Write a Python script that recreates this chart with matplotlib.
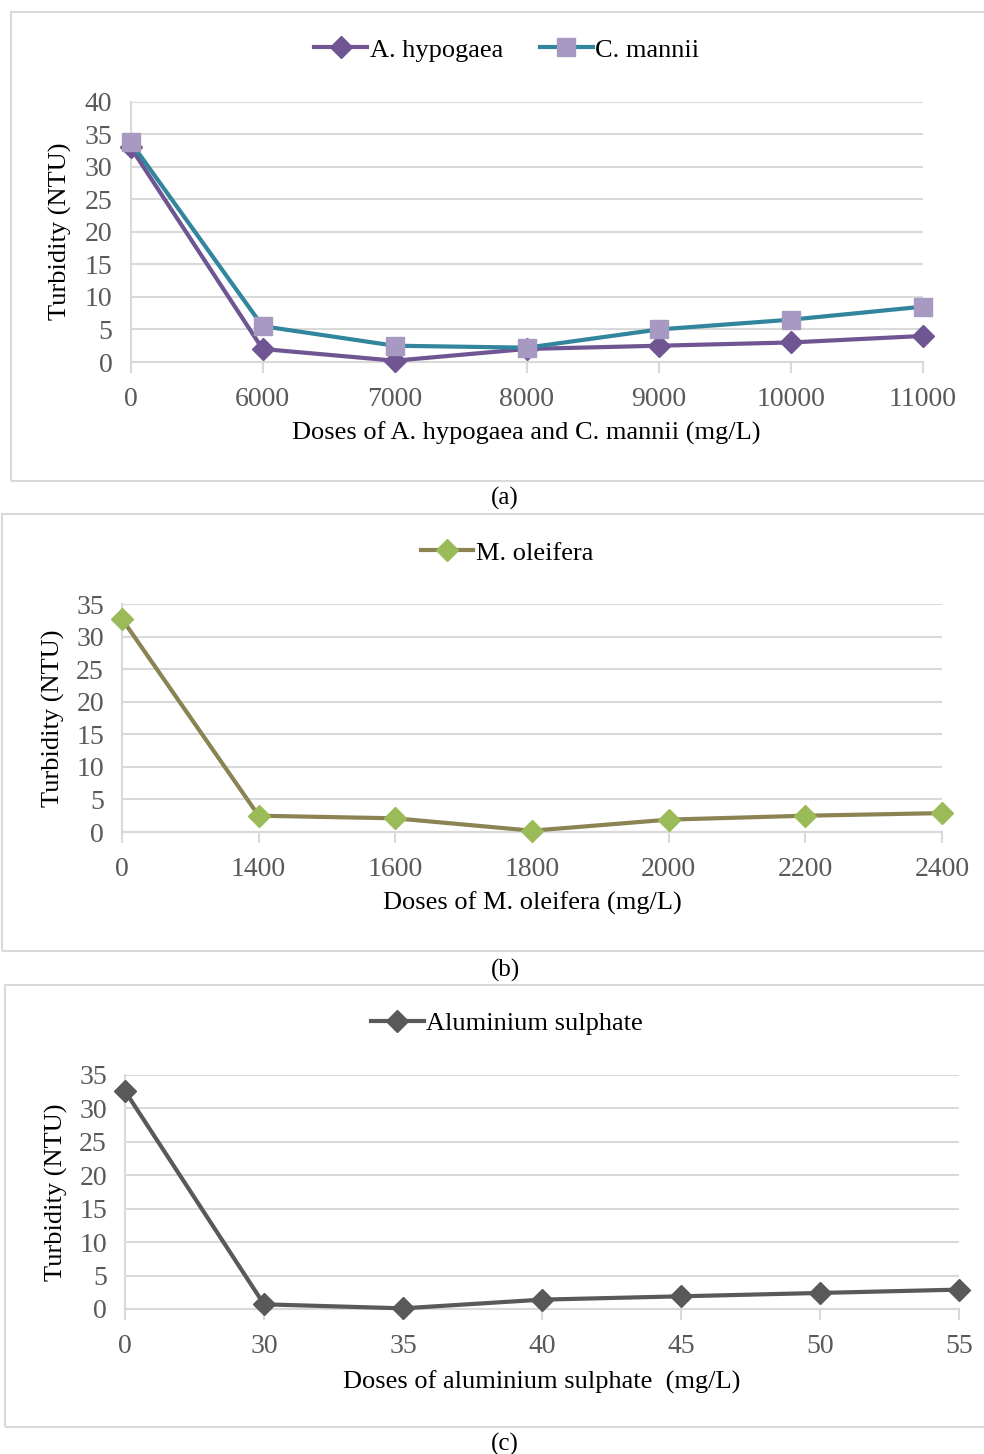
import matplotlib.pyplot as plt
from matplotlib.patches import Rectangle

plt.rcParams['font.family'] = ['Liberation Serif', 'DejaVu Serif']

# (a) natural coagulants
doses_a = ['0', '6000', '7000', '8000', '9000', '10000', '11000']
hypogaea = [33.0, 2.0, 0.2, 2.0, 2.5, 3.0, 4.0]
mannii = [33.8, 5.5, 2.5, 2.2, 5.0, 6.5, 8.5]

# (b) M. oleifera
doses_b = ['0', '1400', '1600', '1800', '2000', '2200', '2400']
oleifera = [32.7, 2.5, 2.1, 0.2, 1.9, 2.5, 2.9]

# (c) aluminium sulphate
doses_c = ['0', '30', '35', '40', '45', '50', '55']
alum = [32.6, 0.7, 0.1, 1.4, 1.9, 2.4, 2.9]

W, H = 984, 1454
fig = plt.figure(figsize=(W / 100, H / 100), dpi=100)

GRID = '#D9D9D9'
TICK = '#595959'


def fx(px):
    return px / W


def fy(py):
    return 1 - py / H


def panel(box, plot, ymax, cats, series, xlabel, legend_y, ylabel_x, xlabel_y, caption, cap_y):
    # panel frame
    x0, y0, x1, y1 = box
    fig.patches.append(Rectangle((fx(x0), fy(y1)), fx(x1) - fx(x0), fy(y0) - fy(y1),
                                 transform=fig.transFigure, fill=False,
                                 edgecolor=GRID, lw=1.5))
    l, r, t, b = plot
    ax = fig.add_axes([fx(l), fy(b), fx(r) - fx(l), fy(t) - fy(b)])
    xs = list(range(len(cats)))
    handles = []
    for vals, lc, mc, mk, ms, name in series:
        h, = ax.plot(xs, vals, color=lc, lw=3, marker=mk, markersize=ms,
                     markerfacecolor=mc, markeredgecolor=mc, clip_on=False, zorder=3,
                     label=name)
        handles.append(h)
    ax.set_xlim(0, len(cats) - 1)
    ax.set_ylim(0, ymax)
    ax.set_yticks(range(0, ymax + 1, 5))
    ax.set_xticks(xs)
    ax.set_xticklabels(cats)
    ax.yaxis.grid(True, color=GRID, lw=1.5)
    ax.set_axisbelow(True)
    for s in ['top', 'right']:
        ax.spines[s].set_visible(False)
    for s in ['left', 'bottom']:
        ax.spines[s].set_color(GRID)
        ax.spines[s].set_linewidth(1.5)
    ax.tick_params(axis='y', length=0, labelsize=20, labelcolor=TICK, pad=13)
    ax.tick_params(axis='x', length=8, width=1.5, color=GRID, labelsize=20,
                   labelcolor=TICK, pad=10)
    ax.set_ylabel('Turbidity (NTU)', fontsize=19)
    ax.yaxis.set_label_coords((ylabel_x - l) / (r - l), 0.5)
    ax.set_xlabel(xlabel, fontsize=19)
    ax.xaxis.set_label_coords(0.5, (b - xlabel_y) / (b - t))
    ax.xaxis.label.set_verticalalignment('center')
    ax.yaxis.label.set_verticalalignment('center')
    fig.legend(handles=handles, loc='center', bbox_to_anchor=(fx(507), fy(legend_y)),
               ncol=len(handles), frameon=False, fontsize=19, handlelength=2.0,
               handletextpad=0.1, columnspacing=1.4)
    fig.text(fx(505), fy(cap_y), caption, ha='center', va='center', fontsize=18)
    return ax


panel((11, 12, 1000, 481), (130.5, 923, 101.5, 362), 40, doses_a,
      [(hypogaea, '#6F5592', '#6F5592', 'D', 11, 'A. hypogaea'),
       (mannii, '#31859C', '#A899C2', 's', 13, 'C. mannii')],
      'Doses of A. hypogaea and C. mannii (mg/L)', 50, 60, 433, '(a)', 498)

panel((2, 514, 1000, 951), (122, 942, 604, 832), 35, doses_b,
      [(oleifera, '#8B8352', '#9BBB59', 'D', 11, 'M. oleifera')],
      'Doses of M. oleifera (mg/L)', 553, 53, 903, '(b)', 970)

panel((5, 985, 1000, 1427), (125, 959, 1075, 1309), 35, doses_c,
      [(alum, '#595959', '#595959', 'D', 11, 'Aluminium sulphate')],
      'Doses of aluminium sulphate  (mg/L)', 1023, 56, 1382, '(c)', 1444)

fig.savefig('out.png', dpi=100)
